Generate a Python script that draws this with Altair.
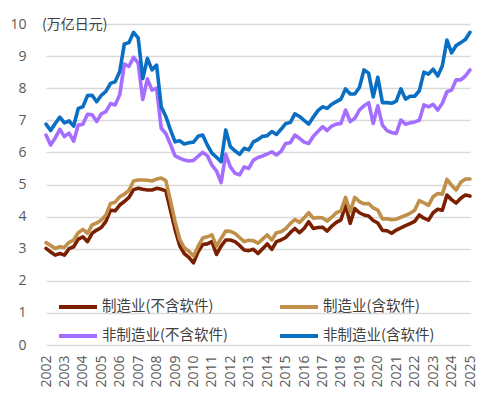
import pandas as pd
import altair as alt

# quarterly values, 2002Q1 .. 2025Q1 (万亿日元)
mfg_ex = [3.01, 2.90, 2.80, 2.85, 2.80, 3.00, 3.06, 3.30, 3.37, 3.22,
          3.48, 3.58, 3.66, 3.85, 4.20, 4.18, 4.36, 4.47, 4.60, 4.84,
          4.88, 4.85, 4.83, 4.83, 4.88, 4.85, 4.80, 4.20, 3.60, 3.10,
          2.85, 2.73, 2.56, 2.90, 3.13, 3.15, 3.22, 2.82, 3.08, 3.27,
          3.27, 3.22, 3.10, 2.96, 2.94, 2.98, 2.85, 3.00, 3.15, 2.98,
          3.22, 3.27, 3.35, 3.50, 3.63, 3.50, 3.63, 3.84, 3.63, 3.66,
          3.67, 3.55, 3.70, 3.82, 3.90, 4.36, 3.79, 4.25, 4.12, 4.05,
          4.02, 3.88, 3.80, 3.57, 3.56, 3.48, 3.58, 3.65, 3.72, 3.78,
          3.85, 4.05, 3.95, 3.89, 4.12, 4.23, 4.20, 4.67, 4.53, 4.42,
          4.57, 4.67, 4.64]
mfg_in = [3.19, 3.10, 3.01, 3.06, 3.04, 3.20, 3.27, 3.50, 3.60, 3.48,
          3.74, 3.80, 3.89, 4.05, 4.41, 4.45, 4.62, 4.70, 4.82, 5.11,
          5.14, 5.14, 5.13, 5.11, 5.17, 5.20, 5.12, 4.50, 3.85, 3.30,
          3.03, 2.92, 2.77, 3.07, 3.33, 3.37, 3.43, 3.08, 3.32, 3.55,
          3.54, 3.48, 3.35, 3.22, 3.26, 3.25, 3.17, 3.30, 3.43, 3.27,
          3.50, 3.53, 3.62, 3.78, 3.91, 3.82, 3.96, 4.12, 3.95, 3.97,
          3.96, 3.86, 3.98, 4.12, 4.18, 4.60, 4.15, 4.60, 4.47, 4.40,
          4.41, 4.27, 4.20, 3.93, 3.93, 3.90, 3.92, 3.98, 4.04, 4.10,
          4.20, 4.50, 4.43, 4.35, 4.62, 4.72, 4.70, 5.16, 4.98, 4.83,
          5.07, 5.17, 5.17]
non_ex = [6.54, 6.23, 6.45, 6.72, 6.49, 6.60, 6.35, 6.85, 6.88, 7.19,
          7.17, 6.96, 7.20, 7.27, 7.52, 7.48, 7.80, 8.75, 8.68, 8.96,
          8.78, 7.65, 8.29, 7.94, 8.00, 6.75, 6.59, 6.25, 5.89, 5.82,
          5.76, 5.73, 5.75, 5.88, 6.00, 5.90, 5.60, 5.42, 5.06, 5.94,
          5.55, 5.35, 5.30, 5.55, 5.50, 5.76, 5.84, 5.89, 5.95, 6.02,
          5.92, 6.03, 6.28, 6.30, 6.54, 6.44, 6.32, 6.28, 6.50, 6.65,
          6.80, 6.68, 6.82, 6.88, 6.90, 7.32, 6.96, 7.06, 7.32, 7.45,
          7.55, 6.90, 7.45, 6.85, 6.68, 6.62, 6.59, 7.01, 6.88, 6.92,
          6.95, 7.00, 7.48, 7.42, 7.50, 7.32, 7.53, 7.89, 7.94, 8.26,
          8.26, 8.38, 8.57]
non_in = [6.88, 6.68, 6.90, 7.10, 6.92, 6.98, 6.82, 7.37, 7.42, 7.77,
          7.78, 7.58, 7.78, 7.90, 8.15, 8.20, 8.52, 9.38, 9.42, 9.74,
          9.57, 8.30, 8.93, 8.57, 8.72, 7.42, 7.12, 6.70, 6.33, 6.36,
          6.26, 6.30, 6.32, 6.50, 6.54, 6.23, 5.98, 5.85, 5.71, 6.70,
          6.18, 6.05, 5.94, 6.13, 6.08, 6.33, 6.40, 6.50, 6.52, 6.65,
          6.56, 6.72, 6.90, 6.93, 7.20, 7.12, 7.00, 6.88, 7.10, 7.30,
          7.42, 7.37, 7.50, 7.58, 7.66, 7.98, 7.82, 7.82, 8.02, 8.57,
          8.47, 7.73, 8.34, 7.55, 7.55, 7.53, 7.60, 7.98, 7.66, 7.75,
          7.75, 7.92, 8.50, 8.44, 8.59, 8.38, 8.70, 9.50, 9.10, 9.33,
          9.42, 9.52, 9.74]

series_names = ['制造业(不含软件)', '制造业(含软件)', '非制造业(不含软件)', '非制造业(含软件)']
series_colors = ['#7A2000', '#C08F4A', '#A56EFF', '#0A6FC2']
years = list(range(2002, 2026))

quarters = [2002 + i / 4 for i in range(len(mfg_ex))]
rows = []
for k, (name, vals) in enumerate(zip(series_names, [mfg_ex, mfg_in, non_ex, non_in])):
    for q, v in zip(quarters, vals):
        rows.append({'t': q, 'v': v, 's': name, 'k': k})
df = pd.DataFrame(rows)

label_gray = '#595959'

chart = alt.Chart(df).mark_line(strokeWidth=3.6, strokeJoin='round', strokeCap='round').encode(
    x=alt.X('t:Q',
            scale=alt.Scale(domain=[2002, 2025], nice=False, zero=False),
            axis=alt.Axis(values=years, format='d', labelAngle=270, grid=False, ticks=False,
                          domain=False, title=None, labelPadding=10, labelFontSize=14,
                          labelColor=label_gray, labelFont='Open Sans',
                          labelOverlap=False, labelFlush=False)),
    y=alt.Y('v:Q',
            scale=alt.Scale(domain=[0, 10], nice=False),
            axis=alt.Axis(values=list(range(11)), title=None, domain=False, ticks=False,
                          gridColor='#D9D9D9', gridWidth=1.5, labelPadding=20,
                          labelFontSize=14, labelColor=label_gray, labelFont='Open Sans')),
    color=alt.Color('s:N',
                    scale=alt.Scale(domain=series_names, range=series_colors),
                    legend=alt.Legend(title=None, orient='none', legendX=11, legendY=262,
                                      columns=2, direction='horizontal',
                                      symbolType='stroke', symbolSize=1444,
                                      symbolStrokeWidth=4, labelFontSize=14.5,
                                      labelFont='Noto Sans CJK SC', labelColor='#404040',
                                      labelOffset=3, columnPadding=44, rowPadding=-10,
                                      labelLimit=300, padding=0)),
    detail='k:N',
).properties(
    width=424,
    height=321,
    autosize=alt.AutoSizeParams(type='none'),
    padding={'left': 38, 'top': 16, 'right': 10, 'bottom': 50},
    title=alt.TitleParams('(万亿日元)', anchor='start', frame='group', orient='top',
                          offset=0, baseline='middle', dx=-4, dy=22, fontSize=14,
                          fontWeight='normal', color='#404040', font='Noto Sans CJK SC'),
).configure_view(
    stroke=None
)

chart.save('out.html', embed_options={'renderer': 'svg', 'actions': False})
